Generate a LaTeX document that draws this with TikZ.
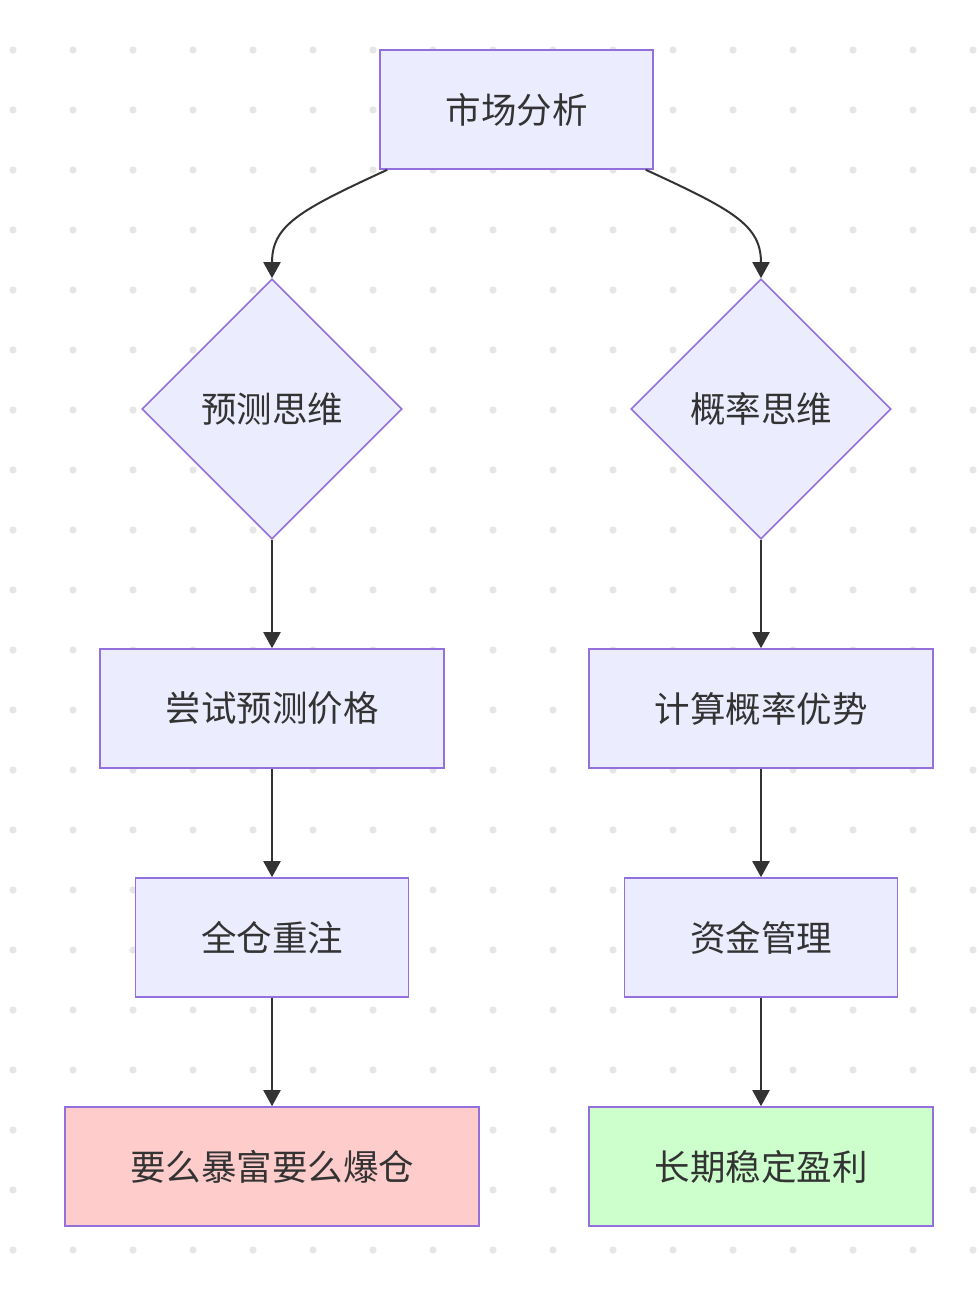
\documentclass[tikz,border=0pt]{standalone}
\usepackage{fontspec}
\setmainfont{Noto Sans CJK SC}
\usetikzlibrary{shapes.geometric,arrows.meta}
\definecolor{nodefill}{HTML}{ECECFF}
\definecolor{nodeline}{HTML}{9370DB}
\definecolor{txt}{HTML}{333333}
\definecolor{redfill}{HTML}{FFCCCC}
\definecolor{greenfill}{HTML}{CCFFCC}
\definecolor{dotc}{HTML}{E6E6E6}
\tikzset{
  box/.style={draw=nodeline, fill=nodefill, line width=1.6pt, text=txt,
    font=\fontsize{35.5}{40}\selectfont, inner sep=0pt, minimum height=119pt},
  dia/.style={draw=nodeline, fill=nodefill, line width=1.6pt, text=txt,
    font=\fontsize{35.5}{40}\selectfont, diamond, inner sep=0pt,
    minimum width=260pt, minimum height=260pt},
  edge/.style={draw=txt, line width=2pt, -{Triangle[length=16pt,width=17pt]}},
}
\begin{document}
\begin{tikzpicture}[x=1pt,y=-1pt]
\useasboundingbox (0,0) rectangle (980,1294);
\fill[white] (0,0) rectangle (980,1294);
% dot grid
\foreach \i in {0,...,16} {
  \foreach \j in {0,...,20} {
    \fill[dotc] (13+60*\i, 50+60*\j) circle (3.6pt);
  }
}
\node[box, minimum width=273pt] (top) at (516.5,109.5) {市场分析};
\node[dia] (d1) at (272,409) {预测思维};
\node[dia] (d2) at (761,409) {概率思维};
\node[box, minimum width=344pt] (l1) at (272,708.5) {尝试预测价格};
\node[box, minimum width=344pt] (r1) at (761,708.5) {计算概率优势};
\node[box, minimum width=273pt] (l2) at (272,937.5) {全仓重注};
\node[box, minimum width=273pt] (r2) at (761,937.5) {资金管理};
\node[box, minimum width=414pt, fill=redfill] (l3) at (272,1166.5) {要么暴富要么爆仓};
\node[box, minimum width=344pt, fill=greenfill] (r3) at (761,1166.5) {长期稳定盈利};

\draw[edge] ([xshift=8pt]top.south west) .. controls (300,210) and (272,225) .. (d1.north);
\draw[edge] ([xshift=-8pt]top.south east) .. controls (733,210) and (761,225) .. (d2.north);
\draw[edge] (d1.south) -- (l1.north);
\draw[edge] (d2.south) -- (r1.north);
\draw[edge] (l1) -- (l2);
\draw[edge] (r1) -- (r2);
\draw[edge] (l2) -- (l3);
\draw[edge] (r2) -- (r3);
\end{tikzpicture}
\end{document}
